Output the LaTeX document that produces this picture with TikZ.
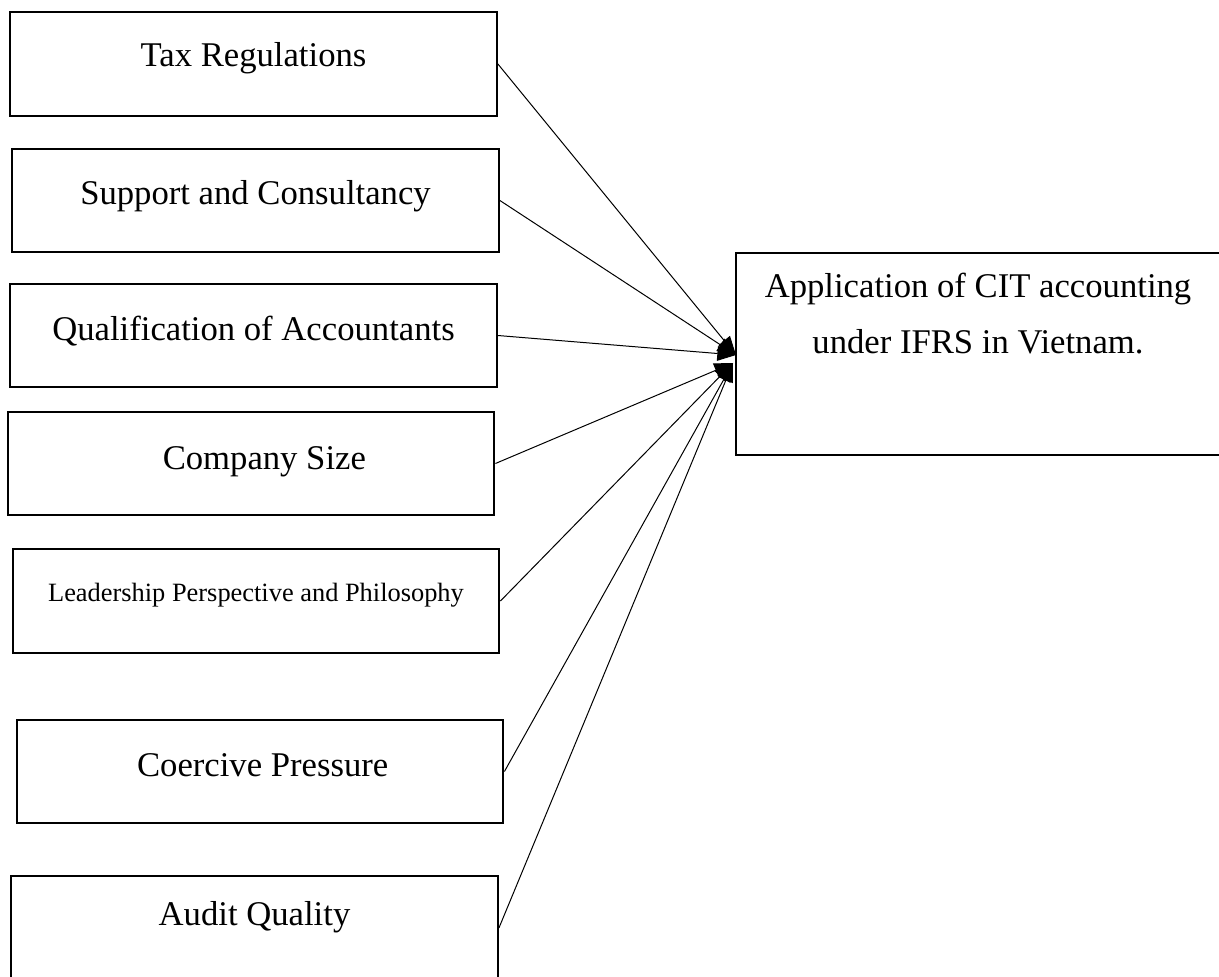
\documentclass[tikz,border=0pt]{standalone}
\usepackage{fontspec}
\setmainfont{Liberation Serif}
\usetikzlibrary{arrows.meta}
\begin{document}
\begin{tikzpicture}[x=0.75pt,y=-0.75pt,
  factor/.style={draw=black,line width=1.6pt,inner sep=0pt,
    minimum width=365pt,minimum height=77.5pt},
  outcome/.style={draw=black,line width=1.6pt,inner sep=0pt,
    minimum width=366pt,minimum height=151.5pt},
  lbl/.style={inner sep=0pt,font=\fontsize{26}{31}\selectfont},
  smalllbl/.style={inner sep=0pt,font=\fontsize{19.8}{24}\selectfont},
  link/.style={line width=0.75pt,-{Triangle[length=14pt,width=11pt]}}]
\useasboundingbox (0,0) rectangle (1219,976);

% factor boxes on the left
\node[factor] (tax)  at (253.5,64)  {};
\node[factor] (sup)  at (255.5,200.5) {};
\node[factor] (qual) at (253.5,335.5) {};
\node[factor] (size) at (251,463.5) {};
\node[factor] (lead) at (256,601) {};
\node[factor] (coer) at (260,771.5) {};
\node[factor] (aud)  at (254.5,928) {};

% box labels, set a little above each centre
\node[lbl] (taxt)  at ([yshift=4pt]tax.center)  {Tax Regulations};
\node[lbl] (supt)  at ([yshift=3pt]sup.center)  {Support and Consultancy};
\node[lbl] (qualt) at ([yshift=3.5pt]qual.center) {Qualification of Accountants};
\node[lbl] (sizet) at ([xshift=10pt,yshift=1.5pt]size.center) {Company Size};
\node[smalllbl] (leadt) at ([yshift=4pt]lead.center) {Leadership Perspective and Philosophy};
\node[lbl] (coert) at ([xshift=2pt,yshift=5pt]coer.center) {Coercive Pressure};
\node[lbl] (audt)  at ([yshift=8pt]aud.center)  {Audit Quality};

% outcome box on the right
\node[outcome] (app) at (980,354) {};
\node[lbl,align=center,font=\fontsize{26}{42}\selectfont] (appt) at (978,314)
  {Application of CIT accounting\\under IFRS in Vietnam.};

% arrow ends on the left side of the outcome box
\coordinate (hiA) at (736,355);
\coordinate (loA) at (733,363);

\draw[link] (tax.east)  -- (hiA);
\draw[link] (sup.east)  -- (hiA);
\draw[link] (qual.east) -- (hiA);
\draw[link] (size.east) -- (loA);
\draw[link] (lead.east) -- (loA);
\draw[link] (coer.east) -- (loA);
\draw[link] (aud.east)  -- (loA);
\end{tikzpicture}
\end{document}
